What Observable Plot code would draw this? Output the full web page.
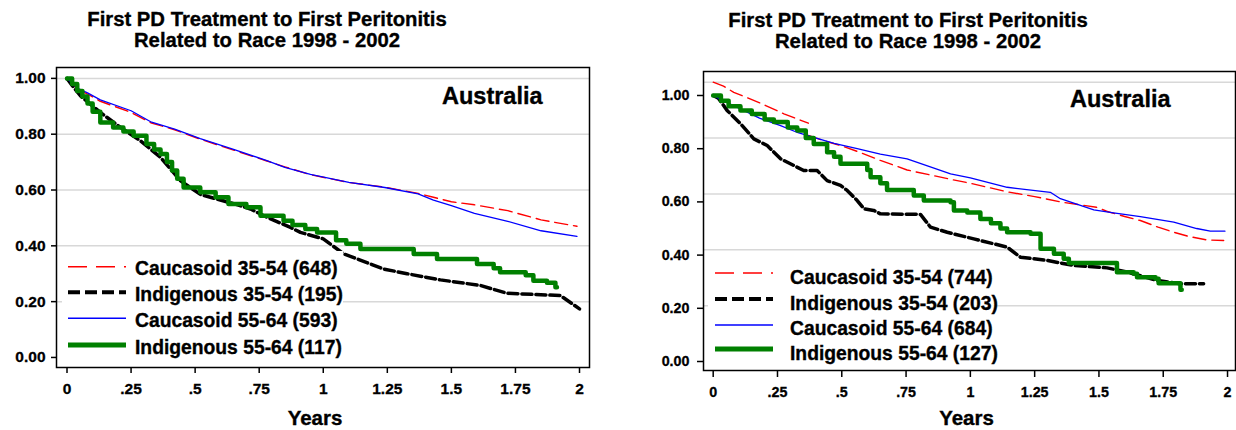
<!DOCTYPE html>
<html>
<head>
<meta charset="utf-8">
<script src="https://cdn.jsdelivr.net/npm/d3@7"></script>
<script src="https://cdn.jsdelivr.net/npm/@observablehq/plot@0.6"></script>
<style>
  html, body { margin: 0; padding: 0; background: #fff; }
  #root { position: relative; width: 1236px; height: 430px; overflow: hidden; background: #fff;
          font-family: "Liberation Sans", Arial, Helvetica, sans-serif; font-weight: bold; color: #000; }
  .abs { position: absolute; white-space: nowrap; -webkit-text-stroke: 0.35px #000; }
  .title { font-size: 20.3px; line-height: 21px; text-align: center; }
  .country { line-height: 1; }
  .legbox { background: #fff; -webkit-text-stroke: 0; }
  .legtext { line-height: 1; }
  .xlabel { font-size: 20.5px; line-height: 1; text-align: center; }
  svg.plotchart text { stroke: #000; stroke-width: 0.3px; }
</style>
</head>
<body>
<div id="root"></div>
<script>
// ---------- shared labels ----------
const chartTitleLines = ["First PD Treatment to First Peritonitis", "Related to Race 1998 - 2002"];
const countryLabel = "Australia";
const xAxisLabel = "Years";
const xTicks = [0, 0.25, 0.5, 0.75, 1, 1.25, 1.5, 1.75, 2];
const xTickLabels = ["0", ".25", ".5", ".75", "1", "1.25", "1.5", "1.75", "2"];
const yTicks = [0, 0.2, 0.4, 0.6, 0.8, 1.0];
const yTickLabels = ["0.00", "0.20", "0.40", "0.60", "0.80", "1.00"];
const seriesNames = ["Caucasoid 35-54", "Indigenous 35-54", "Caucasoid 55-64", "Indigenous 55-64"];
const leftCounts = [648, 195, 593, 117];
const rightCounts = [744, 203, 684, 127];
const leftGrid = [0.2, 0.4, 0.6, 0.8, 1.0];
const rightGrid = [0.21, 0.42, 0.63, 0.84, 1.05];

// ---------- left panel series (years, survival) ----------
const L_cauc35_t = [0, 0.04, 0.08, 0.13, 0.25, 0.33, 0.42, 0.52, 0.65, 0.78, 0.85, 0.95, 1.1, 1.24, 1.37, 1.43, 1.5, 1.59, 1.72, 1.85, 1.99];
const L_cauc35_s = [1, 0.962, 0.944, 0.918, 0.878, 0.84, 0.816, 0.782, 0.743, 0.704, 0.683, 0.655, 0.627, 0.61, 0.588, 0.574, 0.558, 0.547, 0.526, 0.493, 0.47];
const L_indig35_t = [0, 0.02, 0.053, 0.13, 0.209, 0.287, 0.365, 0.443, 0.521, 0.65, 0.716, 0.781, 0.872, 0.911, 1.0, 1.08, 1.132, 1.235, 1.327, 1.457, 1.613, 1.717, 1.925, 2.0];
const L_indig35_s = [1, 0.975, 0.937, 0.878, 0.824, 0.776, 0.717, 0.633, 0.584, 0.551, 0.532, 0.502, 0.466, 0.448, 0.425, 0.371, 0.353, 0.317, 0.3, 0.278, 0.258, 0.23, 0.222, 0.174];
const L_cauc55_t = [0, 0.04, 0.08, 0.13, 0.25, 0.33, 0.42, 0.52, 0.65, 0.78, 0.85, 0.95, 1.1, 1.24, 1.37, 1.43, 1.5, 1.59, 1.72, 1.85, 1.99];
const L_cauc55_s = [1, 0.965, 0.948, 0.923, 0.884, 0.843, 0.818, 0.784, 0.746, 0.705, 0.681, 0.656, 0.627, 0.609, 0.586, 0.564, 0.544, 0.516, 0.488, 0.454, 0.434];
const L_indig55_t = [0, 0.02, 0.04, 0.06, 0.08, 0.1, 0.13, 0.18, 0.22, 0.26, 0.31, 0.34, 0.365, 0.39, 0.41, 0.43, 0.455, 0.52, 0.58, 0.63, 0.7, 0.755, 0.845, 0.88, 0.93, 0.976, 1.05, 1.09, 1.145, 1.353, 1.444, 1.6, 1.665, 1.69, 1.79, 1.82, 1.873, 1.906, 1.912];
const L_indig55_s = [1, 0.98, 0.955, 0.935, 0.91, 0.88, 0.842, 0.824, 0.81, 0.794, 0.765, 0.745, 0.729, 0.7, 0.67, 0.64, 0.609, 0.592, 0.574, 0.55, 0.538, 0.508, 0.49, 0.475, 0.46, 0.448, 0.42, 0.407, 0.389, 0.371, 0.353, 0.335, 0.32, 0.305, 0.295, 0.275, 0.268, 0.252, 0.252];

// ---------- right panel series ----------
const R_cauc35a_t = [0, 0.04, 0.08, 0.184, 0.275, 0.37];
const R_cauc35a_s = [1.05, 1.035, 1.012, 0.971, 0.931, 0.896];
const R_cauc35b_t = [0.37, 0.43, 0.495, 0.56, 0.65, 0.754, 0.85, 0.923, 1.0, 1.143, 1.25, 1.35, 1.42, 1.49, 1.53, 1.6, 1.661, 1.73, 1.791, 1.85, 1.92, 1.985];
const R_cauc35b_s = [0.85, 0.83, 0.812, 0.79, 0.756, 0.72, 0.7, 0.685, 0.67, 0.638, 0.62, 0.6, 0.59, 0.58, 0.565, 0.545, 0.53, 0.505, 0.486, 0.47, 0.457, 0.455];
const R_indig35_t = [0, 0.02, 0.054, 0.106, 0.158, 0.21, 0.262, 0.313, 0.352, 0.404, 0.443, 0.495, 0.521, 0.56, 0.586, 0.624, 0.65, 0.806, 0.845, 0.91, 1.013, 1.143, 1.195, 1.299, 1.402, 1.532, 1.61, 1.726, 1.817, 1.907];
const R_indig35_s = [1, 0.99, 0.944, 0.894, 0.837, 0.812, 0.762, 0.737, 0.718, 0.718, 0.68, 0.662, 0.643, 0.605, 0.574, 0.568, 0.555, 0.553, 0.505, 0.486, 0.461, 0.43, 0.392, 0.38, 0.361, 0.352, 0.336, 0.305, 0.292, 0.292];
const R_cauc55_t = [0, 0.05, 0.106, 0.18, 0.262, 0.33, 0.391, 0.47, 0.56, 0.65, 0.754, 0.85, 0.923, 1.0, 1.143, 1.311, 1.35, 1.48, 1.55, 1.661, 1.791, 1.88, 1.933, 1.99];
const R_cauc55_s = [1, 0.975, 0.95, 0.915, 0.887, 0.86, 0.843, 0.82, 0.8, 0.78, 0.762, 0.73, 0.705, 0.69, 0.655, 0.636, 0.612, 0.57, 0.56, 0.545, 0.524, 0.5, 0.49, 0.49];
const R_indig55_t = [0, 0.03, 0.06, 0.106, 0.15, 0.2, 0.236, 0.29, 0.327, 0.36, 0.391, 0.443, 0.47, 0.495, 0.599, 0.612, 0.65, 0.676, 0.78, 0.819, 0.923, 0.936, 0.988, 1.039, 1.08, 1.117, 1.143, 1.234, 1.273, 1.325, 1.363, 1.383, 1.551, 1.57, 1.635, 1.648, 1.72, 1.732, 1.804, 1.817, 1.822];
const R_indig55_s = [1, 0.98, 0.96, 0.944, 0.93, 0.91, 0.9, 0.88, 0.868, 0.84, 0.818, 0.787, 0.77, 0.743, 0.72, 0.693, 0.67, 0.645, 0.624, 0.605, 0.599, 0.568, 0.56, 0.536, 0.52, 0.5, 0.486, 0.48, 0.424, 0.405, 0.386, 0.37, 0.37, 0.336, 0.33, 0.317, 0.311, 0.294, 0.294, 0.27, 0.27];

// ---------- styles ----------
const seriesStyle = [
  {stroke: "#ff0000", strokeWidth: 1.4, dash: "13,6", legendDash: "19,9", legendWidth: 1.4},
  {stroke: "#000000", strokeWidth: 3.5, dash: "10,4", legendDash: "12,5", legendWidth: 4},
  {stroke: "#0000ff", strokeWidth: 1.3, dash: null, legendDash: null, legendWidth: 1.4},
  {stroke: "#008000", strokeWidth: 4.5, dash: null, legendDash: null, legendWidth: 5}
];

const zip = (t, s) => t.map((v, i) => ({t: v, s: s[i]}));
const labelOf = new Map(xTicks.map((d, i) => [d, xTickLabels[i]]));
const yLabelOf = new Map(yTicks.map((d, i) => [d, yTickLabels[i]]));

function lineMark(data, k, curve, extra = {}) {
  const st = seriesStyle[k];
  const o = {x: "t", y: "s", stroke: st.stroke, strokeWidth: st.strokeWidth, curve, ...extra};
  if (st.dash) o.strokeDasharray = st.dash;
  return Plot.line(data, o);
}

function panel(cfg) {
  const svg = Plot.plot({
    width: cfg.width, height: cfg.height,
    marginLeft: cfg.ml, marginRight: cfg.mr, marginTop: cfg.mt, marginBottom: cfg.mb,
    x: {domain: cfg.xdom},
    y: {domain: cfg.ydom},
    style: {fontFamily: "'Liberation Sans', Arial, sans-serif", fontSize: cfg.fs + "px", fontWeight: "bold", color: "#000", background: "transparent", overflow: "visible"},
    marks: [
      Plot.ruleY(cfg.grid, {stroke: "#d8d8d8", strokeWidth: 1.5}),
      ...cfg.lines,
      Plot.frame({stroke: "#000", strokeWidth: 1.5}),
      Plot.axisY(yTicks, {tickFormat: d => yLabelOf.get(d), tickSize: cfg.yts, tickPadding: cfg.ytp, strokeWidth: 1.5, label: null}),
      Plot.axisX(xTicks, {tickFormat: d => labelOf.get(d), tickSize: cfg.xts, tickPadding: cfg.xtp, strokeWidth: 1.5, label: null})
    ]
  });
  svg.classList.add("plotchart");
  return svg;
}

const root = document.getElementById("root");
function addDiv(cls, text, css) {
  const d = document.createElement("div");
  d.className = "abs " + cls;
  d.textContent = text;
  Object.assign(d.style, css);
  root.appendChild(d);
  return d;
}

// ---------- left chart ----------
const leftSvg = panel({
  width: 618, height: 375, ml: 56, mr: 29, mt: 12, mb: 63,
  xdom: [-0.041, 2.039], ydom: [-0.036, 1.039], fs: 15.5,
  yts: 5, ytp: 6, xts: 6, xtp: 9, grid: leftGrid,
  lines: [
    lineMark(zip(L_cauc35_t, L_cauc35_s), 0, "linear"),
    lineMark(zip(L_indig35_t, L_indig35_s), 1, "linear"),
    lineMark(zip(L_cauc55_t, L_cauc55_s), 2, "linear"),
    lineMark(zip(L_indig55_t, L_indig55_s), 3, "step-after")
  ]
});
Object.assign(leftSvg.style, {position: "absolute", left: "0px", top: "55px"});
root.appendChild(leftSvg);

// ---------- right chart ----------
const rightSvg = panel({
  width: 616, height: 375, ml: 83, mr: 1, mt: 16, mb: 60,
  xdom: [-0.0377, 2.031], ydom: [-0.0338, 1.0902], fs: 14.3,
  yts: 6, ytp: 8, xts: 7, xtp: 9, grid: rightGrid,
  lines: [
    lineMark(zip(R_cauc35a_t, R_cauc35a_s), 0, "linear"),
    lineMark(zip(R_cauc35b_t, R_cauc35b_s), 0, "linear"),
    lineMark(zip(R_indig35_t, R_indig35_s), 1, "linear"),
    lineMark(zip(R_cauc55_t, R_cauc55_s), 2, "linear"),
    lineMark(zip(R_indig55_t, R_indig55_s), 3, "step-after")
  ]
});
Object.assign(rightSvg.style, {position: "absolute", left: "620px", top: "55px"});
root.appendChild(rightSvg);

// ---------- titles ----------
function title(left, top) {
  const d = addDiv("title", "", {left: left + "px", top: top + "px", width: "534px"});
  chartTitleLines.forEach(l => { const s = document.createElement("div"); s.textContent = l; d.appendChild(s); });
}
title(0, 9.4);
title(641, 10.4);

// ---------- country labels ----------
addDiv("country", countryLabel, {left: "442px", top: "85px", fontSize: "23.5px"});
addDiv("country", countryLabel, {left: "1070px", top: "88px", fontSize: "23.5px"});

// ---------- x labels ----------
addDiv("xlabel", xAxisLabel, {left: "215px", width: "200px", top: "407.5px"});
addDiv("xlabel", xAxisLabel, {left: "866.5px", width: "200px", top: "407.5px"});

// ---------- legends ----------
function legend(box, counts, rowTops, lineYs, lineX0, lineX1, textX, fs) {
  addDiv("legbox", "", {left: box[0] + "px", top: box[1] + "px", width: box[2] + "px", height: box[3] + "px"});
  const ns = "http://www.w3.org/2000/svg";
  const svg = document.createElementNS(ns, "svg");
  svg.setAttribute("width", 1236); svg.setAttribute("height", 430);
  Object.assign(svg.style, {position: "absolute", left: "0px", top: "0px", pointerEvents: "none"});
  seriesNames.forEach((name, i) => {
    const st = seriesStyle[i];
    const ln = document.createElementNS(ns, "line");
    ln.setAttribute("x1", lineX0); ln.setAttribute("x2", lineX1);
    ln.setAttribute("y1", lineYs[i]); ln.setAttribute("y2", lineYs[i]);
    ln.setAttribute("stroke", st.stroke); ln.setAttribute("stroke-width", st.legendWidth);
    if (st.legendDash) ln.setAttribute("stroke-dasharray", st.legendDash);
    svg.appendChild(ln);
    addDiv("legtext", `${name} (${counts[i]})`, {left: textX + "px", top: rowTops[i] + "px", fontSize: fs + "px"});
  });
  root.appendChild(svg);
}
legend([62, 251, 281, 112], leftCounts, [259, 285.4, 310.7, 337.7], [266.7, 292.3, 318.3, 345], 68, 126, 135, 19.3);
legend([708, 256, 287, 110], rightCounts, [267.7, 293.7, 318.7, 343.7], [273, 299, 325, 349], 715, 773, 790, 19.3);
</script>
</body>
</html>
